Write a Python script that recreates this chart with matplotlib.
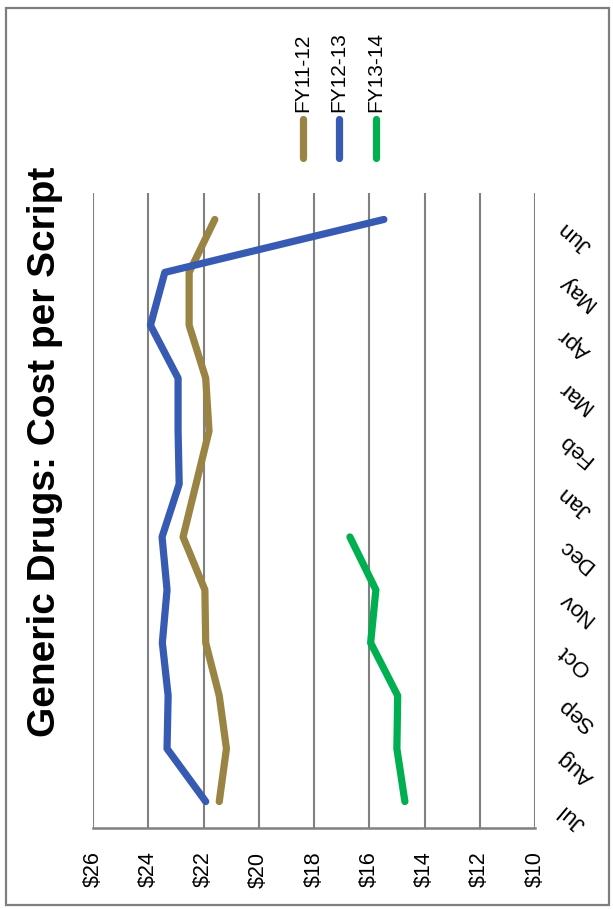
import numpy as np
import matplotlib.pyplot as plt
import matplotlib.transforms as mtransforms
from matplotlib.lines import Line2D
from matplotlib.patches import Rectangle

plt.rcParams['font.family'] = ['Liberation Sans', 'DejaVu Sans']

months = ["Jul", "Aug", "Sep", "Oct", "Nov", "Dec",
          "Jan", "Feb", "Mar", "Apr", "May", "Jun"]
fy11_12 = [21.43, 21.17, 21.43, 21.92, 21.95, 22.74,
           22.27, 21.80, 21.92, 22.52, 22.52, 21.59]
fy12_13 = [21.92, 23.32, 23.28, 23.49, 23.32, 23.50,
           22.88, 22.92, 22.92, 23.92, 23.40, 15.47]
fy13_14 = [14.71, 15.00, 14.97, 15.95, 15.76, 16.70]
series_names = ["FY11-12", "FY12-13", "FY13-14"]
value_ticks = [10, 12, 14, 16, 18, 20, 22, 24, 26]

colors = ["#9A8443", "#375AB2", "#00B050"]
W, H = 613, 909

fig = plt.figure(figsize=(W / 100, H / 100), dpi=100)
fig.patch.set_facecolor("white")

# chart is laid out sideways: values run along x (high on the left), months up the y axis
ax = fig.add_axes([93 / W, 1 - 828 / H, (535 - 93) / W, (828 - 193) / H])
pos = np.arange(len(months))
for vals, c in zip([fy11_12, fy12_13, fy13_14], colors):
    ax.plot(vals, pos[:len(vals)], color=c, lw=5.2,
            solid_capstyle="round", solid_joinstyle="round", zorder=3)

ax.set_xlim(26, 10)
ax.set_ylim(-0.5, len(months) - 0.5)
ax.set_xticks(value_ticks)
ax.set_xticklabels([f"${v}" for v in value_ticks], rotation=90, fontsize=15.5)
ax.tick_params(axis="x", length=0, pad=17)
ax.grid(axis="x", color="#808080", lw=1.5, zorder=1)
ax.set_axisbelow(True)

ax.yaxis.tick_right()
ax.set_yticks(pos)
ax.set_yticklabels(months, rotation=140, fontsize=16)
ax.tick_params(axis="y", length=0, pad=14)
shift = mtransforms.ScaledTranslation(0, -6 / 100, fig.dpi_scale_trans)
for lab in ax.get_yticklabels():
    lab.set_transform(lab.get_transform() + shift)

for side in ["top", "left", "right"]:
    ax.spines[side].set_visible(False)
ax.spines["bottom"].set_color("#808080")
ax.spines["bottom"].set_linewidth(1.8)

fig.text(45 / W, 1 - 452 / H, "Generic Drugs: Cost per Script",
         rotation=90, fontsize=28, fontweight="bold", ha="center", va="center")

# legend drawn as vertical swatches with rotated names above them
for i, (name, c) in enumerate(zip(series_names, colors)):
    lx = (302.5 + i * 36.7) / W
    fig.add_artist(Line2D([lx, lx], [1 - 119 / H, 1 - 158 / H], color=c, lw=5.2,
                          solid_capstyle="round", transform=fig.transFigure))
    fig.text(lx, 1 - 112 / H, name, rotation=90, fontsize=15,
             ha="center", va="bottom")

fig.add_artist(Rectangle((6 / W, 1 - 905 / H), (609 - 6) / W, (905 - 8) / H,
                         transform=fig.transFigure, fill=False,
                         edgecolor="#7F7F7F", lw=1.6))

fig.savefig("out.png", dpi=100)
